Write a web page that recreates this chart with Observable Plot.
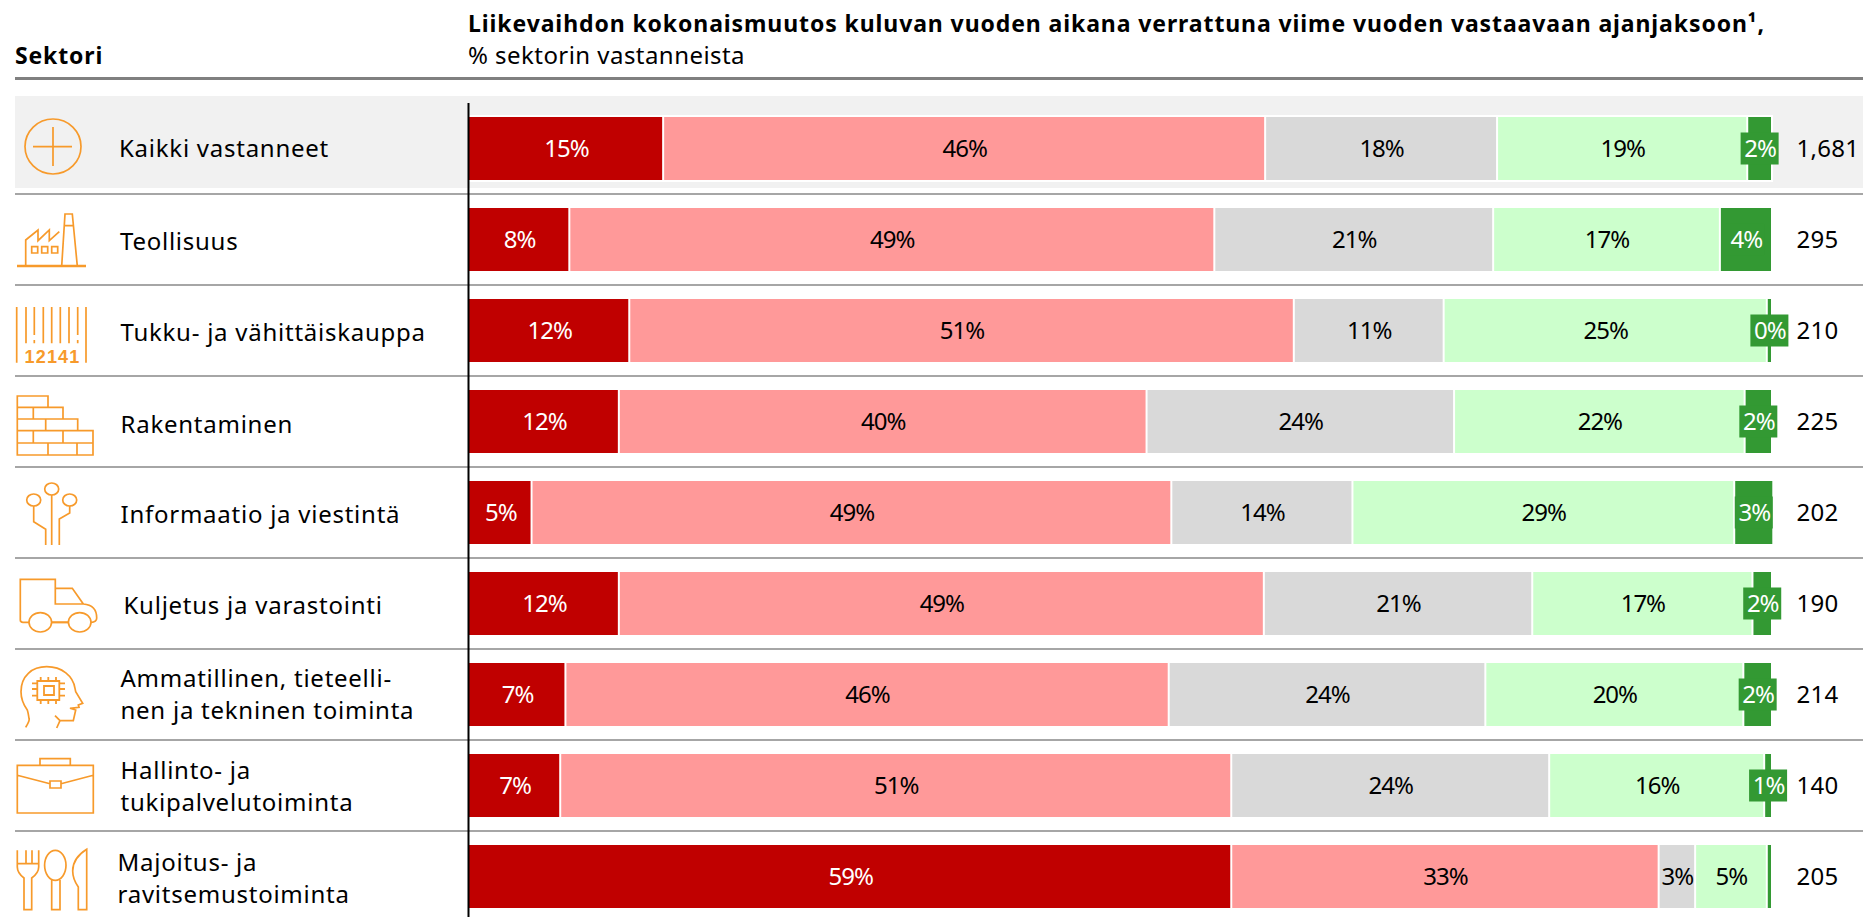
<!DOCTYPE html>
<html lang="fi">
<head>
<meta charset="utf-8">
<script src="https://cdn.jsdelivr.net/npm/d3@7"></script>
<script src="https://cdn.jsdelivr.net/npm/@observablehq/plot@0.6"></script>
<style>
html,body{margin:0;padding:0;background:#fff;overflow:hidden}
body{font-family:"Noto Sans",sans-serif;color:#000;width:1863px}
#head{position:relative;height:77px;margin-left:15px;border-bottom:3px solid #808080}
#head div{position:absolute;white-space:nowrap;line-height:32px}
#sek{left:0;top:39px;font-weight:700;font-size:23px;letter-spacing:.85px}
#t1{left:453px;top:7px;font-weight:700;font-size:23px;letter-spacing:.9px}
#t2{left:453px;top:39px;font-size:24px;letter-spacing:.45px}
svg{display:block}
.seg text{letter-spacing:-1px}
.sec text{letter-spacing:.75px}
.num text{letter-spacing:.3px}
</style>
</head>
<body>
<div id="head">
<div id="sek">Sektori</div>
<div id="t1">Liikevaihdon kokonaismuutos kuluvan vuoden aikana verrattuna viime vuoden vastaavaan ajanjaksoon¹,</div>
<div id="t2">% sektorin vastanneista</div>
</div>
<div id="chart"></div>
<script>
const sectors = ["Kaikki vastanneet","Teollisuus","Tukku- ja vähittäiskauppa","Rakentaminen","Informaatio ja viestintä","Kuljetus ja varastointi","Ammatillinen, tieteellinen ja tekninen toiminta","Hallinto- ja tukipalvelutoiminta","Majoitus- ja ravitsemustoiminta"];
const sectorLines = ["Kaikki vastanneet","Teollisuus","Tukku- ja vähittäiskauppa","Rakentaminen","Informaatio ja viestintä","Kuljetus ja varastointi","Ammatillinen, tieteelli-\nnen ja tekninen toiminta","Hallinto- ja\ntukipalvelutoiminta","Majoitus- ja\nravitsemustoiminta"];
const respondents = ["1,681","295","210","225","202","190","214","140","205"];
const categories = ["a","b","c","d","e"];
const catA = [14.9, 7.7, 12.3, 11.5, 4.8, 11.5, 7.4, 7.0, 58.5];
const catB = [46.2, 49.5, 51.0, 40.5, 49.1, 49.5, 46.3, 51.5, 32.8];
const catC = [17.8, 21.4, 11.5, 23.6, 13.9, 20.6, 24.3, 24.4, 2.8];
const catD = [19.2, 17.4, 24.8, 22.3, 29.3, 16.9, 19.8, 16.5, 5.5];
const catE = [1.9, 4.0, 0.4, 2.1, 3.0, 1.5, 2.2, 0.6, 0.4];
const labelA = ["15%","8%","12%","12%","5%","12%","7%","7%","59%"];
const labelB = ["46%","49%","51%","40%","49%","49%","46%","51%","33%"];
const labelC = ["18%","21%","11%","24%","14%","21%","24%","24%","3%"];
const labelD = ["19%","17%","25%","22%","29%","17%","20%","16%","5%"];
const labelE = ["2%","4%","0%","2%","3%","2%","2%","1%",""];
const colors = ["#c00000","#ff9999","#d9d9d9","#ccffcc","#339933"];
const inkColors = ["#fff","#000","#000","#000","#fff"];

const series = [catA,catB,catC,catD,catE];
const seriesLabels = [labelA,labelB,labelC,labelD,labelE];
const segs = [];
sectors.forEach((s,i)=>{
  let x = 0;
  series.forEach((v,k)=>{
    segs.push({sector:s,cat:categories[k],x1:x,x2:x+v[i],mid:x+v[i]/2,label:seriesLabels[k][i],ink:inkColors[k]});
    x += v[i];
  });
});
const X0 = 469, X1 = 1772;
const px = p => (p - X0) / (X1 - X0) * 100;
const labelLeft = [118.5,119.5,120,120,120,123,120,120,117];
const labelDy = [-2,0,0,1,0,0,-2,-1,0];
const rows = sectors.map((s,i)=>({sector:s,text:sectorLines[i],n:respondents[i],left:px(labelLeft[i])}));

const O = "#f79a2b";
const icons = [
 `<ellipse cx="53" cy="43.5" rx="28" ry="27.5"/><path d="M33 43.7H72M53 24V63"/>`,
 `<path stroke-width="2.5" d="M17 72H86"/><path d="M25.7 72V46L38 36V46.7L49.3 36V46.7L59.3 37.7M61.7 72L65 20H72.3L77.3 72M64.3 31.7H73"/><path d="M31.7 52.7h6v6.3h-6zM41.7 52.7h6v6.3h-6zM51.7 52.7h6v6.3h-6z"/>`,
 `<path d="M16.7 22V77.7M86 22V77.7M26 22V58.3M34.3 22V50M34.3 55V58.3M43.3 22V58.3M51.7 22V58.3M60.3 22V58.3M69 22V58.3M77.7 22V50M77.7 55V58.3"/><text x="52.5" y="77.5" text-anchor="middle" fill="${O}" stroke="none" font-family="Liberation Sans" font-weight="700" font-size="18" letter-spacing="1.2">12141</text>`,
 `<path d="M17.3 20H48V31.3H63V43H77.7V54.7H93V79H17.3ZM17.3 31.3H48M17.3 43H63M17.3 54.7H77.7M17.3 67H93M33.3 31.3V43M45.7 43V54.7M33.3 54.7V67M63 54.7V67M48 67V79M77 67V79"/>`,
 `<ellipse cx="51.7" cy="22" rx="7" ry="6"/><ellipse cx="33.7" cy="33" rx="7" ry="6"/><ellipse cx="69.7" cy="33" rx="7" ry="6"/><path d="M51.7 28V78M33.7 39V54.7L45.7 62.3V78M69.7 39V46L59.3 52V78"/>`,
 `<path d="M29 64.3H23Q20.3 64.3 20.3 62V21.3H55.3V46H83.3L72.3 30.3H55.3M83.3 46Q96.7 47 96.7 60Q96.7 64.3 91 64.3"/><ellipse cx="40.3" cy="64.3" rx="11.3" ry="9.7"/><ellipse cx="79.7" cy="64.3" rx="11.3" ry="9.7"/><path stroke-width="2.2" d="M51.7 64.3H68.3"/>`,
 `<path d="M25.7 78.3C28 74 30 72 29 69.3C28.5 66 28 63 27.3 61C23 55 21 49 21 42.7C21 27 32 17.7 46.7 17.7C62 17.7 73 27 75 39.3L75.7 42.7L82.7 54.3L78.3 56L79 58.3L70 59.3L75.7 61L73.3 71.7H60L55 66.7M60 71.7L56.7 79"/><path stroke-width="1.8" d="M37.3 32H59.3V51H37.3ZM44 37H54V46H44ZM40.7 28V32M48.3 28V32M56 28V32M40.7 51V55M48.3 51V55M56 51V55M32 34.3H37.3M32 40H37.3M32 46.7H37.3M59.3 34.3H65M59.3 40H65M59.3 46.7H65"/>`,
 `<path d="M17.3 25.3H93.3V73H17.3ZM40 25.3V18.7H70.3V25.3M17.3 35.3L50 43.7M61 43.7L93.3 35.3M50 41H61V48H50Z"/>`,
 `<path d="M17.3 19.3V36Q17.3 42 24 47V78.7H31.7V47Q38.7 42 38.7 36V19.3M26 19.3V32.7M32 19.3V32.7M17.3 32.7H38.7"/><ellipse cx="55.3" cy="34.3" rx="10.7" ry="15"/><path d="M51.7 49V78.7H60V49M86.7 18.3Q72.7 27 72.7 40Q72.7 48 78.3 56V78.7H86.7Z"/>`
];
function iconMark(index, scales){
  const g = document.createElementNS("http://www.w3.org/2000/svg","g");
  g.setAttribute("fill","none");
  g.setAttribute("stroke",O);
  g.setAttribute("stroke-width","1.7");
  g.innerHTML = sectors.map((s,i)=>`<g transform="translate(0,${scales.y(s)})">${icons[i]}</g>`).join("");
  return g;
}

const ff = '"Noto Sans",sans-serif';
const boxHalf = px(X0+19);
const smallLabels = segs.filter(d=>d.cat==="e" && d.label);

const plot = Plot.plot({
  width:1863, height:837,
  marginLeft:0, marginRight:0, marginTop:23, marginBottom:0,
  x:{domain:[0,100],range:[X0,X1],axis:null},
  y:{domain:sectors,range:[23,842],padding:0,axis:null},
  color:{domain:categories,range:colors,legend:false},
  style:{background:"#fff",fontFamily:ff,fontSize:"24px",overflow:"hidden"},
  marks:[
    Plot.barX([sectors[0]],{x1:px(15),x2:px(1863),y:d=>d,fill:"#f1f1f1",insetTop:-7,insetBottom:6}),
    Plot.barX(sectors.slice(0,-1),{x1:px(15),x2:px(1863),y:d=>d,fill:"#a6a6a6",insetTop:90,insetBottom:-1}),
    Plot.barX([sectors[0]],{x1:0,x2:100,y:d=>d,fill:"#fff",insetTop:12,insetBottom:12,insetRight:-1}),
    Plot.barX(segs.filter(d=>d.cat==="a"),{x1:"x1",x2:"x2",y:"sector",fill:"cat",insetTop:14,insetBottom:14,insetRight:1}),
    Plot.barX(segs.filter(d=>d.cat!=="a"),{x1:"x1",x2:"x2",y:"sector",fill:"cat",insetTop:14,insetBottom:14,insetLeft:1,insetRight:1}),
    Plot.barX(smallLabels,{x1:d=>d.mid-boxHalf,x2:d=>d.mid+boxHalf,y:"sector",fill:"#339933",insetTop:29.5,insetBottom:29.5}),
    Plot.text(segs.filter(d=>d.label),{x:"mid",y:"sector",text:"label",fill:"ink",fontSize:24,className:"seg"}),
    Plot.text(rows,{x:100,y:"sector",text:"n",textAnchor:"start",dx:24,fontSize:24,fill:"#000",className:"num"}),
    ...rows.map((r,i)=>Plot.text([r],{x:"left",y:"sector",text:"text",textAnchor:"start",fontSize:24,lineHeight:1.333,dy:labelDy[i],fill:"#000",className:"sec"})),
    Plot.ruleX([0],{stroke:"#000",strokeWidth:2,dx:-1}),
    iconMark
  ]
});
document.getElementById("chart").appendChild(plot);
</script>
</body>
</html>
